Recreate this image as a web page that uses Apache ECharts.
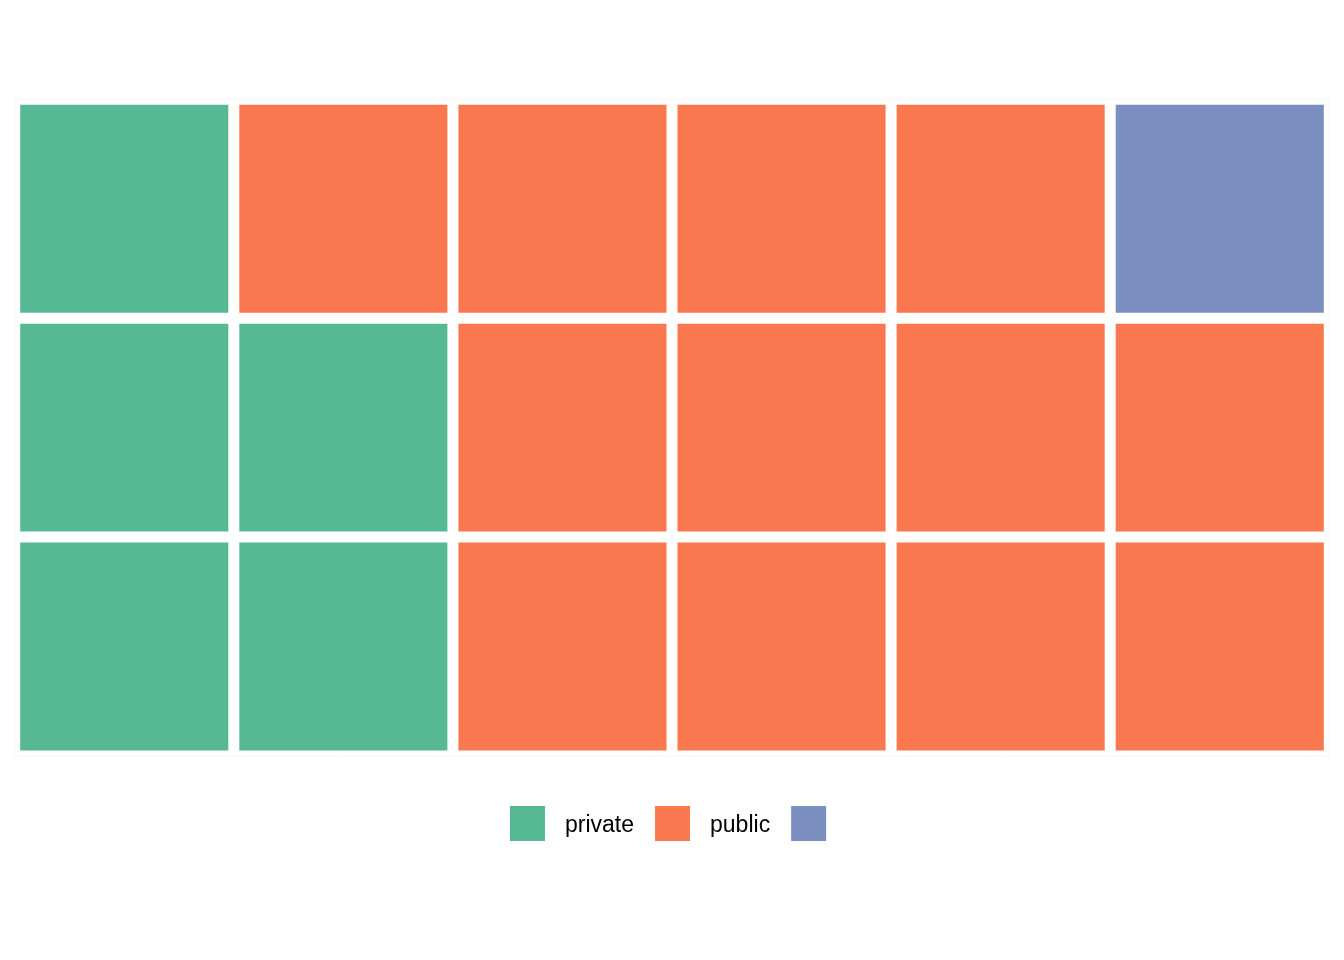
<!DOCTYPE html>
<html>
<head>
<meta charset="utf-8">
<script src="https://cdn.jsdelivr.net/npm/echarts@6/dist/echarts.min.js"></script>
<style>html,body{margin:0;padding:0;background:#fff}#c{width:1344px;height:960px}</style>
</head>
<body>
<div id="c"></div>
<script>
const categories = ['private', 'public', 'NA'];
const counts = [5, 12, 1];
const legendLabels = ['private', 'public', ''];
const colors = ['#57B994', '#F97850', '#7B8EC0'];
const nRows = 3;
const nCols = 6;

// waffle fill: column by column, bottom to top
const cells = categories.map(() => []);
let k = 0;
categories.forEach((c, ci) => {
  for (let j = 0; j < counts[ci]; j++) {
    const col = Math.floor(k / nRows);
    const row = k % nRows;
    cells[ci].push([col, row]);
    k++;
  }
});

const chart = echarts.init(document.getElementById('c'), null, {renderer: 'canvas'});
const gap = 11;
function renderItem(params, api) {
  const p = api.coord([api.value(0), api.value(1)]);
  const s = api.size([1, 1]);
  const w = s[0] - gap, h = s[1] - gap;
  return {
    type: 'rect',
    shape: {x: p[0] - w / 2, y: p[1] - h / 2, width: w, height: h},
    style: {fill: api.visual('color')}
  };
}
chart.setOption({
  backgroundColor: '#ffffff',
  animation: false,
  grid: {left: 14.7, top: 99.3, width: 1314.6, height: 656.7, show: true, borderColor: '#f6f6f6', borderWidth: 1, backgroundColor: 'transparent'},
  xAxis: {type: 'value', min: -0.5, max: nCols - 0.5, show: false},
  yAxis: {type: 'value', min: -0.5, max: nRows - 0.5, show: false},
  legend: {
    left: 510, top: 806, padding: 0,
    itemWidth: 35, itemHeight: 35, itemGap: 21,
    icon: 'rect',
    data: categories,
    formatter: name => {
      const t = legendLabels[categories.indexOf(name)];
      return t ? '{a|' + t + '}' : '';
    },
    textStyle: {
      fontFamily: 'Liberation Sans, Arial, sans-serif', fontSize: 23, color: '#000', padding: [0, 0, 0, 15],
      rich: {a: {fontFamily: 'Liberation Sans, Arial, sans-serif', fontSize: 23, color: '#000', padding: [5, 0, 0, 0]}}
    }
  },
  series: categories.map((c, i) => ({
    type: 'custom',
    name: c,
    renderItem: renderItem,
    itemStyle: {color: colors[i]},
    data: cells[i]
  }))
});
</script>
</body>
</html>
